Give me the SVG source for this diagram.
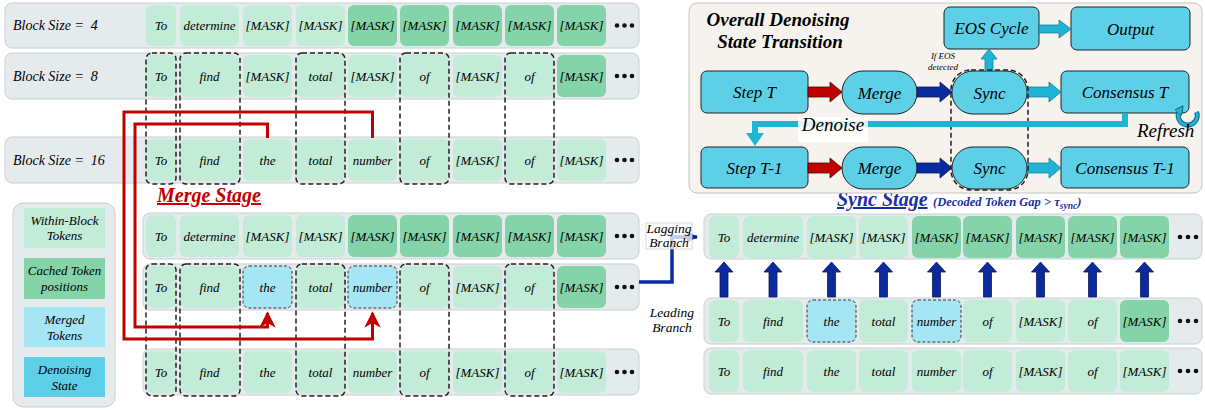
<svg xmlns="http://www.w3.org/2000/svg" width="1205" height="410" viewBox="0 0 1205 410">
  <style>
    .row { fill: #e5ebed; stroke: #c9d0d3; stroke-width: 1; }
    .tl { fill: #c2ecd8; }
    .td { fill: #85d4a9; }
    .tm { fill: #a6e6f4; stroke: #333; stroke-width: 1; stroke-dasharray: 3 2; }
    text { font-family: "Liberation Serif", "Times New Roman", serif; font-style: italic; fill: #000; }
    .tt { font-size: 13px; text-anchor: middle; }
    .lbl { font-size: 14px; }
    .grp { fill: none; stroke: #222; stroke-width: 1.5; stroke-dasharray: 5 3; }
    .dot { fill: #111; }
    .state { fill: #5dd0e8; stroke: #222; stroke-width: 1; }
    .st { font-size: 17px; text-anchor: middle; }
    .red { fill: none; stroke: #c00000; stroke-width: 3; }
    .upb { fill: #0b2a9b; stroke: #0a1a60; stroke-width: 0.8; }
    .leg { font-size: 13px; text-anchor: middle; }
    .mid { text-anchor: middle; }
    .bi { font-weight: bold; }
  </style>
  <defs>
    <marker id="redHead" viewBox="0 0 10 10" refX="9" refY="5" markerWidth="5.5" markerHeight="5.5" orient="auto" markerUnits="strokeWidth">
      <path d="M0,0 L10,5 L0,10 L3,5 z" fill="#c00000"/>
    </marker>
    <marker id="blueHead" viewBox="0 0 10 10" refX="9" refY="5" markerWidth="3.2" markerHeight="3.2" orient="auto" markerUnits="strokeWidth">
      <path d="M0,0 L10,5 L0,10 z" fill="#0a2aa0"/>
    </marker>
    <marker id="cyanHead" viewBox="0 0 10 10" refX="4" refY="5" markerWidth="3" markerHeight="3" orient="auto" markerUnits="strokeWidth">
      <path d="M0,0 L10,5 L0,10 z" fill="#1fb3d4" stroke="#17627a" stroke-width="1"/>
    </marker>
  </defs>

  <rect width="1205" height="410" fill="#ffffff"/>

  <!-- Block-size rows -->
  <g id="row-bs4">
    <rect class="row" x="5" y="3" width="634" height="45" rx="7"/>
    <text class="lbl" x="13" y="30" xml:space="preserve">Block Size =  4</text>
    <rect class="tl" x="146" y="5" width="30" height="41" rx="6"/><text class="tt" x="161" y="30">To</text>
    <rect class="tl" x="180" y="5" width="59" height="41" rx="6"/><text class="tt" x="209.5" y="30">determine</text>
    <rect class="tl" x="243" y="5" width="49" height="41" rx="6"/><text class="tt" x="267.5" y="30">[MASK]</text>
    <rect class="tl" x="296" y="5" width="49" height="41" rx="6"/><text class="tt" x="320.5" y="30">[MASK]</text>
    <rect class="td" x="348" y="5" width="49" height="41" rx="6"/><text class="tt" x="372.5" y="30">[MASK]</text>
    <rect class="td" x="400" y="5" width="49" height="41" rx="6"/><text class="tt" x="424.5" y="30">[MASK]</text>
    <rect class="td" x="453" y="5" width="49" height="41" rx="6"/><text class="tt" x="477.5" y="30">[MASK]</text>
    <rect class="td" x="505" y="5" width="49" height="41" rx="6"/><text class="tt" x="529.5" y="30">[MASK]</text>
    <rect class="td" x="557" y="5" width="49" height="41" rx="6"/><text class="tt" x="581.5" y="30">[MASK]</text>
    <circle class="dot" cx="617" cy="25.5" r="2.3"/><circle class="dot" cx="624.5" cy="25.5" r="2.3"/><circle class="dot" cx="632" cy="25.5" r="2.3"/>
  </g>

  <g id="row-bs8">
    <rect class="row" x="5" y="53" width="634" height="46" rx="7"/>
    <text class="lbl" x="13" y="80.5" xml:space="preserve">Block Size =  8</text>
    <rect class="tl" x="146" y="55" width="30" height="42" rx="6"/><text class="tt" x="161" y="80.5">To</text>
    <rect class="tl" x="180" y="55" width="59" height="42" rx="6"/><text class="tt" x="209.5" y="80.5">find</text>
    <rect class="tl" x="243" y="55" width="49" height="42" rx="6"/><text class="tt" x="267.5" y="80.5">[MASK]</text>
    <rect class="tl" x="296" y="55" width="49" height="42" rx="6"/><text class="tt" x="320.5" y="80.5">total</text>
    <rect class="tl" x="348" y="55" width="49" height="42" rx="6"/><text class="tt" x="372.5" y="80.5">[MASK]</text>
    <rect class="tl" x="400" y="55" width="49" height="42" rx="6"/><text class="tt" x="424.5" y="80.5">of</text>
    <rect class="tl" x="453" y="55" width="49" height="42" rx="6"/><text class="tt" x="477.5" y="80.5">[MASK]</text>
    <rect class="tl" x="505" y="55" width="49" height="42" rx="6"/><text class="tt" x="529.5" y="80.5">of</text>
    <rect class="td" x="557" y="55" width="49" height="42" rx="6"/><text class="tt" x="581.5" y="80.5">[MASK]</text>
    <circle class="dot" cx="617" cy="76" r="2.3"/><circle class="dot" cx="624.5" cy="76" r="2.3"/><circle class="dot" cx="632" cy="76" r="2.3"/>
  </g>

  <g id="row-bs16">
    <rect class="row" x="5" y="137" width="634" height="46" rx="7"/>
    <text class="lbl" x="13" y="164.5" xml:space="preserve">Block Size =  16</text>
    <rect class="tl" x="146" y="139" width="30" height="42" rx="6"/><text class="tt" x="161" y="164.5">To</text>
    <rect class="tl" x="180" y="139" width="59" height="42" rx="6"/><text class="tt" x="209.5" y="164.5">find</text>
    <rect class="tl" x="243" y="139" width="49" height="42" rx="6"/><text class="tt" x="267.5" y="164.5">the</text>
    <rect class="tl" x="296" y="139" width="49" height="42" rx="6"/><text class="tt" x="320.5" y="164.5">total</text>
    <rect class="tl" x="348" y="139" width="49" height="42" rx="6"/><text class="tt" x="372.5" y="164.5">number</text>
    <rect class="tl" x="400" y="139" width="49" height="42" rx="6"/><text class="tt" x="424.5" y="164.5">of</text>
    <rect class="tl" x="453" y="139" width="49" height="42" rx="6"/><text class="tt" x="477.5" y="164.5">[MASK]</text>
    <rect class="tl" x="505" y="139" width="49" height="42" rx="6"/><text class="tt" x="529.5" y="164.5">of</text>
    <rect class="tl" x="557" y="139" width="49" height="42" rx="6"/><text class="tt" x="581.5" y="164.5">[MASK]</text>
    <circle class="dot" cx="617" cy="160" r="2.3"/><circle class="dot" cx="624.5" cy="160" r="2.3"/><circle class="dot" cx="632" cy="160" r="2.3"/>
  </g>

  <!-- aligned decoded columns across block sizes -->
  <g id="cols-top">
    <rect class="grp" x="146" y="53" width="30" height="131" rx="6"/>
    <rect class="grp" x="180" y="53" width="60" height="131" rx="6"/>
    <rect class="grp" x="296" y="53" width="49" height="131" rx="6"/>
    <rect class="grp" x="400" y="53" width="49" height="131" rx="6"/>
    <rect class="grp" x="505" y="53" width="49" height="131" rx="6"/>
  </g>

  <!-- Merge stage rows -->
  <g id="merge-title">
    <text class="bi" x="157" y="202" font-size="20" style="fill:#c00000" text-decoration="underline">Merge Stage</text>
  </g>

  <g id="merge-row-a">
    <rect class="row" x="143" y="213" width="496" height="46" rx="7"/>
    <rect class="tl" x="146" y="215" width="30" height="42" rx="6"/><text class="tt" x="161" y="240.5">To</text>
    <rect class="tl" x="180" y="215" width="59" height="42" rx="6"/><text class="tt" x="209.5" y="240.5">determine</text>
    <rect class="tl" x="243" y="215" width="49" height="42" rx="6"/><text class="tt" x="267.5" y="240.5">[MASK]</text>
    <rect class="tl" x="296" y="215" width="49" height="42" rx="6"/><text class="tt" x="320.5" y="240.5">[MASK]</text>
    <rect class="td" x="348" y="215" width="49" height="42" rx="6"/><text class="tt" x="372.5" y="240.5">[MASK]</text>
    <rect class="td" x="400" y="215" width="49" height="42" rx="6"/><text class="tt" x="424.5" y="240.5">[MASK]</text>
    <rect class="td" x="453" y="215" width="49" height="42" rx="6"/><text class="tt" x="477.5" y="240.5">[MASK]</text>
    <rect class="td" x="505" y="215" width="49" height="42" rx="6"/><text class="tt" x="529.5" y="240.5">[MASK]</text>
    <rect class="td" x="557" y="215" width="49" height="42" rx="6"/><text class="tt" x="581.5" y="240.5">[MASK]</text>
    <circle class="dot" cx="617" cy="236" r="2.3"/><circle class="dot" cx="624.5" cy="236" r="2.3"/><circle class="dot" cx="632" cy="236" r="2.3"/>
  </g>

  <g id="merge-row-b">
    <rect class="row" x="143" y="264" width="496" height="46" rx="7"/>
    <rect class="tl" x="146" y="266" width="30" height="42" rx="6"/><text class="tt" x="161" y="291.5">To</text>
    <rect class="tl" x="180" y="266" width="59" height="42" rx="6"/><text class="tt" x="209.5" y="291.5">find</text>
    <rect class="tm" x="243" y="266" width="49" height="42" rx="6"/><text class="tt" x="267.5" y="291.5">the</text>
    <rect class="tl" x="296" y="266" width="49" height="42" rx="6"/><text class="tt" x="320.5" y="291.5">total</text>
    <rect class="tm" x="348" y="266" width="49" height="42" rx="6"/><text class="tt" x="372.5" y="291.5">number</text>
    <rect class="tl" x="400" y="266" width="49" height="42" rx="6"/><text class="tt" x="424.5" y="291.5">of</text>
    <rect class="tl" x="453" y="266" width="49" height="42" rx="6"/><text class="tt" x="477.5" y="291.5">[MASK]</text>
    <rect class="tl" x="505" y="266" width="49" height="42" rx="6"/><text class="tt" x="529.5" y="291.5">of</text>
    <rect class="td" x="557" y="266" width="49" height="42" rx="6"/><text class="tt" x="581.5" y="291.5">[MASK]</text>
    <circle class="dot" cx="617" cy="287" r="2.3"/><circle class="dot" cx="624.5" cy="287" r="2.3"/><circle class="dot" cx="632" cy="287" r="2.3"/>
  </g>

  <g id="merge-row-c">
    <rect class="row" x="143" y="349" width="496" height="46" rx="7"/>
    <rect class="tl" x="146" y="351" width="30" height="42" rx="6"/><text class="tt" x="161" y="376.5">To</text>
    <rect class="tl" x="180" y="351" width="59" height="42" rx="6"/><text class="tt" x="209.5" y="376.5">find</text>
    <rect class="tl" x="243" y="351" width="49" height="42" rx="6"/><text class="tt" x="267.5" y="376.5">the</text>
    <rect class="tl" x="296" y="351" width="49" height="42" rx="6"/><text class="tt" x="320.5" y="376.5">total</text>
    <rect class="tl" x="348" y="351" width="49" height="42" rx="6"/><text class="tt" x="372.5" y="376.5">number</text>
    <rect class="tl" x="400" y="351" width="49" height="42" rx="6"/><text class="tt" x="424.5" y="376.5">of</text>
    <rect class="tl" x="453" y="351" width="49" height="42" rx="6"/><text class="tt" x="477.5" y="376.5">[MASK]</text>
    <rect class="tl" x="505" y="351" width="49" height="42" rx="6"/><text class="tt" x="529.5" y="376.5">of</text>
    <rect class="tl" x="557" y="351" width="49" height="42" rx="6"/><text class="tt" x="581.5" y="376.5">[MASK]</text>
    <circle class="dot" cx="617" cy="372" r="2.3"/><circle class="dot" cx="624.5" cy="372" r="2.3"/><circle class="dot" cx="632" cy="372" r="2.3"/>
  </g>

  <g id="cols-merge">
    <rect class="grp" x="146" y="264" width="30" height="132" rx="6"/>
    <rect class="grp" x="180" y="264" width="60" height="132" rx="6"/>
    <rect class="grp" x="296" y="264" width="49" height="132" rx="6"/>
    <rect class="grp" x="400" y="264" width="49" height="132" rx="6"/>
    <rect class="grp" x="505" y="264" width="49" height="132" rx="6"/>
  </g>

  <!-- Legend -->
  <g id="legend">
    <rect x="13" y="203" width="102" height="204" rx="10" fill="#e5ebed" stroke="#c9d0d3"/>
    <rect x="24" y="208" width="81" height="40" fill="#c2ecd8"/>
    <text class="leg" x="64.5" y="225">Within-Block</text><text class="leg" x="64.5" y="240">Tokens</text>
    <rect x="24" y="258" width="81" height="41" fill="#85d4a9"/>
    <text class="leg" x="64.5" y="275">Cached Token</text><text class="leg" x="64.5" y="291">positions</text>
    <rect x="24" y="307" width="81" height="40" fill="#a6e6f4"/>
    <text class="leg" x="64.5" y="324">Merged</text><text class="leg" x="64.5" y="340">Tokens</text>
    <rect x="24" y="357" width="81" height="40" fill="#5dd0e8"/>
    <text class="leg" x="64.5" y="374">Denoising</text><text class="leg" x="64.5" y="390">State</text>
  </g>

  <!-- Sync stage rows -->
  <g id="sync-title">
    <text class="bi" x="837" y="206" font-size="20" style="fill:#1b2fa6" text-decoration="underline">Sync Stage</text>
    <text class="bi" x="933" y="206" font-size="12.5" style="fill:#1b2fa6">(Decoded Token Gap &gt; τ<tspan font-size="9.5" dy="2.5">sync</tspan><tspan dy="-2.5">)</tspan></text>
  </g>

  <g id="sync-row-lag">
    <rect class="row" x="704" y="214" width="498" height="45" rx="7"/>
    <rect class="tl" x="709" y="216" width="30" height="42" rx="6"/><text class="tt" x="724" y="241.5">To</text>
    <rect class="tl" x="743" y="216" width="60" height="42" rx="6"/><text class="tt" x="773" y="241.5">determine</text>
    <rect class="tl" x="807" y="216" width="49" height="42" rx="6"/><text class="tt" x="831.5" y="241.5">[MASK]</text>
    <rect class="tl" x="859" y="216" width="49" height="42" rx="6"/><text class="tt" x="883.5" y="241.5">[MASK]</text>
    <rect class="td" x="912" y="216" width="49" height="42" rx="6"/><text class="tt" x="936.5" y="241.5">[MASK]</text>
    <rect class="td" x="963" y="216" width="49" height="42" rx="6"/><text class="tt" x="987.5" y="241.5">[MASK]</text>
    <rect class="td" x="1016" y="216" width="49" height="42" rx="6"/><text class="tt" x="1040.5" y="241.5">[MASK]</text>
    <rect class="td" x="1068" y="216" width="49" height="42" rx="6"/><text class="tt" x="1092.5" y="241.5">[MASK]</text>
    <rect class="td" x="1120" y="216" width="49" height="42" rx="6"/><text class="tt" x="1144.5" y="241.5">[MASK]</text>
    <circle class="dot" cx="1180" cy="237" r="2.3"/><circle class="dot" cx="1188" cy="237" r="2.3"/><circle class="dot" cx="1196" cy="237" r="2.3"/>
  </g>

  <g id="sync-row-lead">
    <rect class="row" x="704" y="298" width="498" height="46" rx="7"/>
    <rect class="tl" x="709" y="300" width="30" height="42" rx="6"/><text class="tt" x="724" y="325.5">To</text>
    <rect class="tl" x="743" y="300" width="60" height="42" rx="6"/><text class="tt" x="773" y="325.5">find</text>
    <rect class="tm" x="807" y="300" width="49" height="42" rx="6"/><text class="tt" x="831.5" y="325.5">the</text>
    <rect class="tl" x="859" y="300" width="49" height="42" rx="6"/><text class="tt" x="883.5" y="325.5">total</text>
    <rect class="tm" x="912" y="300" width="49" height="42" rx="6"/><text class="tt" x="936.5" y="325.5">number</text>
    <rect class="tl" x="963" y="300" width="49" height="42" rx="6"/><text class="tt" x="987.5" y="325.5">of</text>
    <rect class="tl" x="1016" y="300" width="49" height="42" rx="6"/><text class="tt" x="1040.5" y="325.5">[MASK]</text>
    <rect class="tl" x="1068" y="300" width="49" height="42" rx="6"/><text class="tt" x="1092.5" y="325.5">of</text>
    <rect class="td" x="1120" y="300" width="49" height="42" rx="6"/><text class="tt" x="1144.5" y="325.5">[MASK]</text>
    <circle class="dot" cx="1180" cy="321" r="2.3"/><circle class="dot" cx="1188" cy="321" r="2.3"/><circle class="dot" cx="1196" cy="321" r="2.3"/>
  </g>

  <g id="sync-row-out">
    <rect class="row" x="704" y="348" width="498" height="46" rx="7"/>
    <rect class="tl" x="709" y="350" width="30" height="42" rx="6"/><text class="tt" x="724" y="375.5">To</text>
    <rect class="tl" x="743" y="350" width="60" height="42" rx="6"/><text class="tt" x="773" y="375.5">find</text>
    <rect class="tl" x="807" y="350" width="49" height="42" rx="6"/><text class="tt" x="831.5" y="375.5">the</text>
    <rect class="tl" x="859" y="350" width="49" height="42" rx="6"/><text class="tt" x="883.5" y="375.5">total</text>
    <rect class="tl" x="912" y="350" width="49" height="42" rx="6"/><text class="tt" x="936.5" y="375.5">number</text>
    <rect class="tl" x="963" y="350" width="49" height="42" rx="6"/><text class="tt" x="987.5" y="375.5">of</text>
    <rect class="tl" x="1016" y="350" width="49" height="42" rx="6"/><text class="tt" x="1040.5" y="375.5">[MASK]</text>
    <rect class="tl" x="1068" y="350" width="49" height="42" rx="6"/><text class="tt" x="1092.5" y="375.5">of</text>
    <rect class="tl" x="1120" y="350" width="49" height="42" rx="6"/><text class="tt" x="1144.5" y="375.5">[MASK]</text>
    <circle class="dot" cx="1180" cy="371" r="2.3"/><circle class="dot" cx="1188" cy="371" r="2.3"/><circle class="dot" cx="1196" cy="371" r="2.3"/>
  </g>

  <g id="branch-labels">
    <text class="mid" font-size="13.5" x="672" y="317">Leading</text>
    <text class="mid" font-size="13.5" x="672" y="332">Branch</text>
  </g>

  <!-- State transition panel -->
  <g id="panel">
    <rect x="689" y="3" width="513" height="190" rx="8" fill="#f6f3ee" stroke="#c4c4c4"/>
    <text class="bi mid" x="778" y="26" font-size="19">Overall Denoising</text>
    <text class="bi mid" x="780" y="48" font-size="19">State Transition</text>
  </g>

  <g id="node-eos"><rect class="state" x="944" y="7" width="95" height="42" rx="6"/><text class="st" x="991.5" y="34">EOS Cycle</text></g>
  <g id="node-output"><rect class="state" x="1071" y="7" width="119" height="43" rx="6"/><text class="st" x="1130.5" y="34.5">Output</text></g>
  <g id="node-step-t"><rect class="state" x="701" y="71" width="107" height="42" rx="6"/><text class="st" x="754.5" y="98">Step T</text></g>
  <g id="node-merge-t"><rect class="state" x="842" y="71" width="75" height="43" rx="21"/><text class="st" x="879.5" y="98.5">Merge</text></g>
  <g id="node-sync-t"><rect class="state" x="952" y="71" width="75" height="43" rx="21" stroke-width="1.5"/><text class="st" x="989.5" y="98.5">Sync</text></g>
  <g id="node-consensus-t"><rect class="state" x="1061" y="71" width="128" height="42" rx="6"/><text class="st" x="1125" y="98">Consensus T</text></g>
  <g id="node-step-t1"><rect class="state" x="701" y="147" width="107" height="41" rx="6"/><text class="st" x="754.5" y="173.5">Step T-1</text></g>
  <g id="node-merge-t1"><rect class="state" x="842" y="147" width="75" height="42" rx="21"/><text class="st" x="879.5" y="174">Merge</text></g>
  <g id="node-sync-t1"><rect class="state" x="952" y="147" width="75" height="42" rx="21"/><text class="st" x="989.5" y="174">Sync</text></g>
  <g id="node-consensus-t1"><rect class="state" x="1061" y="147" width="128" height="41" rx="6"/><text class="st" x="1125" y="173.5">Consensus T-1</text></g>

  <!-- Connectors -->
  <g id="connectors">
    <!-- merge stage: tokens from block size 16 feed the merged positions -->
    <path class="red" d="M372.5,138 V112 H124 V339 H372.5 V313" marker-end="url(#redHead)"/>
    <path class="red" d="M267.5,138 V124 H135 V327 H267.5 V313" marker-end="url(#redHead)"/>

    <!-- leading branch output to the lagging branch -->
    <path d="M639,282 H672 V237 H697" fill="none" stroke="#0a2aa0" stroke-width="3.5" marker-end="url(#blueHead)"/>
    <rect x="646" y="223" width="46" height="26" fill="#ffffff" fill-opacity="0.75" stroke="#cfcfcf" stroke-width="0.8"/>
    <text class="mid" font-size="13.5" x="669" y="233">Lagging</text>
    <text class="mid" font-size="13.5" x="669" y="247">Branch</text>

    <!-- sync up-arrows -->
    <g class="upb">
      <polygon points="720,297 720,272 715,272 724,262 733,272 728,272 728,297"/>
      <polygon points="769,297 769,272 764,272 773,262 782,272 777,272 777,297"/>
      <polygon points="827.5,297 827.5,272 822.5,272 831.5,262 840.5,272 835.5,272 835.5,297"/>
      <polygon points="879.5,297 879.5,272 874.5,272 883.5,262 892.5,272 887.5,272 887.5,297"/>
      <polygon points="932.5,297 932.5,272 927.5,272 936.5,262 945.5,272 940.5,272 940.5,297"/>
      <polygon points="983.5,297 983.5,272 978.5,272 987.5,262 996.5,272 991.5,272 991.5,297"/>
      <polygon points="1036.5,297 1036.5,272 1031.5,272 1040.5,262 1049.5,272 1044.5,272 1044.5,297"/>
      <polygon points="1088.5,297 1088.5,272 1083.5,272 1092.5,262 1101.5,272 1096.5,272 1096.5,297"/>
      <polygon points="1140.5,297 1140.5,272 1135.5,272 1144.5,262 1153.5,272 1148.5,272 1148.5,297"/>
    </g>

    <!-- state transitions -->
    <polygon points="808,87 830,87 830,82 842,92 830,102 830,97 808,97" fill="#c00000" stroke="#3a0a0a" stroke-width="0.8"/>
    <polygon points="917,87 940,87 940,82 952,92 940,102 940,97 917,97" fill="#0a2aa0" stroke="#0a1a50" stroke-width="0.8"/>
    <polygon points="1027,87 1049,87 1049,82 1061,92 1049,102 1049,97 1027,97" fill="#1fb3d4" stroke="#17809a" stroke-width="0.8"/>
    <polygon points="808,163 830,163 830,158 842,168 830,178 830,173 808,173" fill="#c00000" stroke="#3a0a0a" stroke-width="0.8"/>
    <polygon points="917,163 940,163 940,158 952,168 940,178 940,173 917,173" fill="#0a2aa0" stroke="#0a1a50" stroke-width="0.8"/>
    <polygon points="1027,163 1049,163 1049,158 1061,168 1049,178 1049,173 1027,173" fill="#1fb3d4" stroke="#17809a" stroke-width="0.8"/>
    <polygon points="1039,25 1059,25 1059,20 1071,29 1059,38 1059,33 1039,33" fill="#1fb3d4" stroke="#17809a" stroke-width="0.8"/>
    <polygon points="985,71 985,59 981,59 989,49 997,59 993,59 993,71" fill="#1fb3d4" stroke="#17809a" stroke-width="0.8"/>

    <!-- sync pair outline -->
    <rect class="grp" x="951" y="70" width="77" height="120" rx="20" stroke-width="1.2" stroke-dasharray="4 3"/>
    <text class="mid" font-size="9" x="943" y="59">If EOS</text>
    <text class="mid" font-size="9" x="943" y="70">detected</text>

    <!-- denoise loop -->
    <path d="M1125,113 V124 H755 V133" fill="none" stroke="#1fb3d4" stroke-width="6"/>
    <polygon points="746,133 764,133 755,146" fill="#1fb3d4"/>
    <rect x="798" y="117" width="70" height="25" fill="#ffffff" fill-opacity="0.85"/>
    <text class="mid" font-size="19" x="833" y="131">Denoise</text>

    <!-- refresh loop: outlined cyan arc -->
    <path d="M1196.5,112 A9.5,9.5 0 1 1 1180,110" fill="none" stroke="#17627a" stroke-width="5"/>
    <path d="M1196.5,112 A9.5,9.5 0 1 1 1180,110" fill="none" stroke="#1fb3d4" stroke-width="3" marker-end="url(#cyanHead)"/>
    <text font-size="19" x="1137" y="137">Refresh</text>
  </g>
</svg>
